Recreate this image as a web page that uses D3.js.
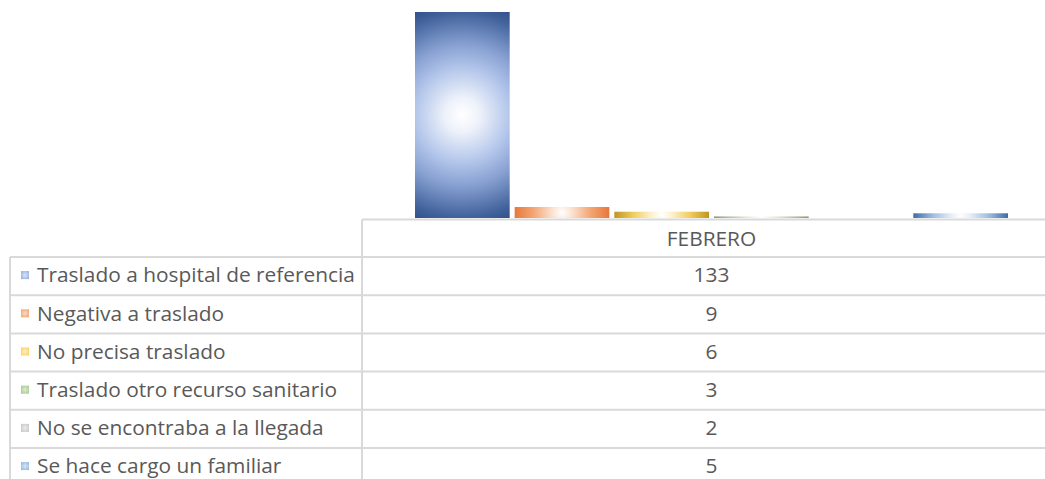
<!DOCTYPE html>
<html>
<head>
<meta charset="utf-8">
<script src="https://cdn.jsdelivr.net/npm/d3@7"></script>
<style>
  html, body { margin: 0; padding: 0; background: #fff; }
  svg { display: block; font-family: "Open Sans", "Noto Sans", sans-serif; }
</style>
</head>
<body>
<div class="chart"></div>
<script>
// data
const category = 'FEBRERO';
const series = [
  'Traslado a hospital de referencia',
  'Negativa a traslado',
  'No precisa traslado',
  'Traslado otro recurso sanitario',
  'No se encontraba a la llegada',
  'Se hace cargo un familiar'
];
const values = [133, 9, 6, 3, 2, 5];

// gradient stops per series: [offset, colour]
const palette = [
  [[0, '#ffffff'], [0.15, '#eef2fa'], [0.42, '#b2c5ea'], [0.62, '#88a1d2'], [0.9, '#42629c'], [1, '#33518a']],
  [[0, '#ffffff'], [0.2, '#fbe3d3'], [0.6, '#f3a673'], [1, '#e8773a']],
  [[0, '#ffffff'], [0.2, '#fdf3d0'], [0.6, '#f1cd5e'], [1, '#bd961f']],
  [[0, '#ffffff'], [0.3, '#e4ecdc'], [0.7, '#b2c2a0'], [1, '#869c70']],
  [[0, '#ffffff'], [0.4, '#e6e6e6'], [1, '#a5a5a5']],
  [[0, '#ffffff'], [0.2, '#e6eef8'], [0.6, '#9dbbdf'], [1, '#3d6ca6']]
];
// legend keys in the table: light centre, tinted edge
const keyColors = [
  ['#dbe4f5', '#8faadc'],
  ['#fbd9c4', '#f19f6c'],
  ['#fff0c0', '#f8cf5a'],
  ['#dcebd2', '#a3c78a'],
  ['#ececec', '#c4c4c4'],
  ['#d8e6f4', '#8db4de']
];

const width = 1045;
const height = 479;
const plot = { left: 415, right: 1008, top: 12, base: 218 };
const table = { left: 10, split: 362, right: 1060, top: 219.5, head: 257, row: 38.2 };
const gridColor = '#d9d9d9';
const textColor = '#595959';

const svg = d3.select('.chart').append('svg')
  .attr('width', width)
  .attr('height', height);
const defs = svg.append('defs');

// value axis in the picture starts at 2, not at 0
const y = d3.scaleLinear().domain([2, 133]).range([plot.base, plot.top]);
const x = d3.scaleBand().domain(series).range([plot.left, plot.right]).paddingInner(0.05);
const rows = d3.scaleBand().domain(series)
  .range([table.head, table.head + series.length * table.row]);

const bars = series.map((s, i) => {
  const x0 = x(s), w = x.bandwidth();
  const y0 = y(values[i]), h = Math.max(0, plot.base - y0);
  return { s, i, x0, w, y0, h };
});

// one radial gradient per bar, in pixels, reaching the corners
bars.forEach(b => {
  const g = defs.append('radialGradient')
    .attr('id', 'bar' + b.i)
    .attr('gradientUnits', 'userSpaceOnUse')
    .attr('cx', b.x0 + b.w / 2)
    .attr('cy', b.y0 + b.h / 2)
    .attr('r', Math.sqrt((b.w / 2) ** 2 + (b.h / 2) ** 2) || 1);
  palette[b.i].forEach(([o, c]) => g.append('stop').attr('offset', o).attr('stop-color', c));

  const m = defs.append('radialGradient').attr('id', 'mark' + b.i).attr('r', 0.7);
  m.append('stop').attr('offset', 0).attr('stop-color', keyColors[b.i][0]);
  m.append('stop').attr('offset', 1).attr('stop-color', keyColors[b.i][1]);
});

svg.append('g').selectAll('rect').data(bars).join('rect')
  .attr('x', d => d.x0)
  .attr('y', d => d.y0)
  .attr('width', d => d.w)
  .attr('height', d => d.h)
  .attr('fill', d => `url(#bar${d.i})`);

// data table grid
const grid = svg.append('g').attr('stroke', gridColor).attr('stroke-width', 2).attr('fill', 'none');
grid.append('line').attr('x1', table.split).attr('x2', table.right)
  .attr('y1', table.top).attr('y2', table.top);
series.forEach(s => {
  grid.append('line').attr('x1', table.left).attr('x2', table.right)
    .attr('y1', rows(s)).attr('y2', rows(s));
});
grid.append('line').attr('x1', table.left).attr('x2', table.left)
  .attr('y1', table.head).attr('y2', height);
grid.append('line').attr('x1', table.split).attr('x2', table.split)
  .attr('y1', table.top).attr('y2', height);

// fit the font so the longest label is as wide as in the picture
const probe = svg.append('text').attr('font-size', 20).text(series[0]);
const fontSize = 20 * 318 / probe.node().getComputedTextLength();
probe.remove();

const cx = (plot.left + plot.right) / 2;
const txt = svg.append('g').attr('fill', textColor).attr('font-size', fontSize);

txt.append('text')
  .attr('x', cx)
  .attr('y', (table.top + table.head) / 2)
  .attr('dy', '0.35em')
  .attr('text-anchor', 'middle')
  .text(category);

txt.selectAll('text.label').data(series).join('text')
  .attr('class', 'label')
  .attr('x', 37)
  .attr('y', d => rows(d) + rows.bandwidth() / 2 - 1)
  .attr('dy', '0.35em')
  .text(d => d);

txt.selectAll('text.value').data(values).join('text')
  .attr('class', 'value')
  .attr('x', cx)
  .attr('y', (d, i) => rows(series[i]) + rows.bandwidth() / 2 - 1)
  .attr('dy', '0.35em')
  .attr('text-anchor', 'middle')
  .text(d => d);

svg.append('g').selectAll('rect').data(series).join('rect')
  .attr('x', 21)
  .attr('y', d => rows(d) + rows.bandwidth() / 2 - 5)
  .attr('width', 8)
  .attr('height', 8)
  .attr('fill', (d, i) => `url(#mark${i})`);
</script>
</body>
</html>
